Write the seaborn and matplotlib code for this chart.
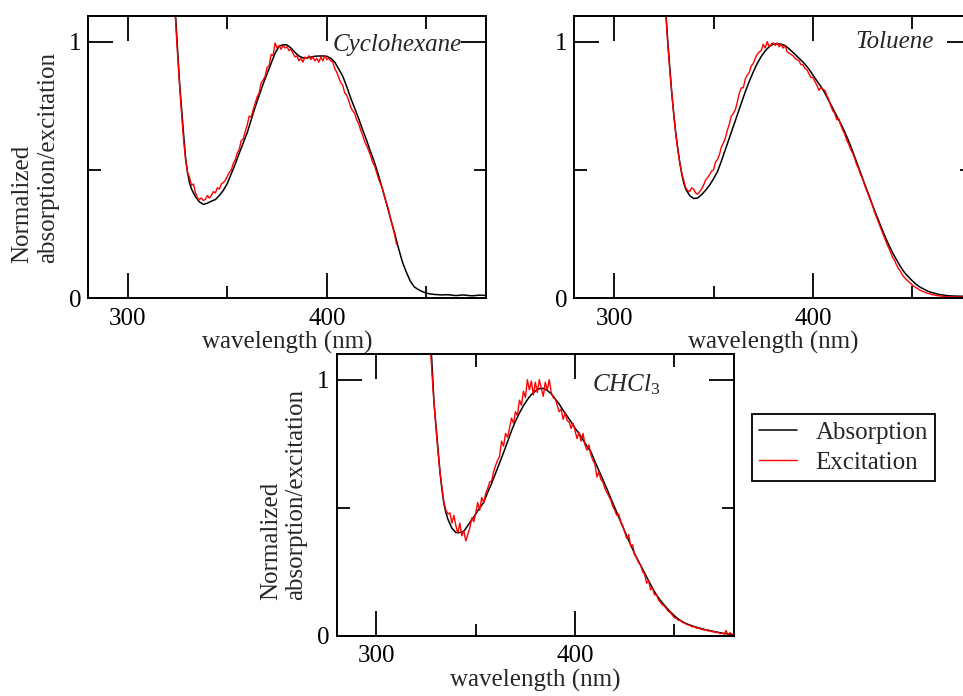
import numpy as np
import matplotlib
matplotlib.use("Agg")
import matplotlib.pyplot as plt
import seaborn as sns

# ---------------- data ----------------
# Cyclohexane
cyc_abs_wl = [322, 324, 326, 327, 328, 329, 330, 331, 332, 334, 336, 338, 340, 342, 344, 346, 348, 350,
              352, 354, 356, 358, 360, 362, 364, 366, 368, 370, 372, 374, 376, 378, 380, 382, 384, 386,
              388, 390, 392, 394, 396, 398, 400, 402, 404, 406, 408, 410, 412, 414, 416, 418, 420, 422,
              424, 426, 428, 430, 432, 434, 436, 438, 440, 442, 444, 446, 448, 450, 452, 454, 456, 458,
              460, 462, 464, 466, 468, 470, 472, 474, 476, 478, 480]
cyc_abs = [1.35, 1.10, 0.84, 0.74, 0.64, 0.55, 0.49, 0.45, 0.425, 0.395, 0.375, 0.365, 0.37, 0.378, 0.384,
           0.40, 0.42, 0.447, 0.485, 0.523, 0.565, 0.605, 0.645, 0.695, 0.745, 0.79, 0.835, 0.875, 0.915,
           0.955, 0.982, 0.988, 0.987, 0.975, 0.958, 0.944, 0.937, 0.936, 0.94, 0.943, 0.944, 0.944, 0.943,
           0.935, 0.92, 0.893, 0.865, 0.825, 0.78, 0.74, 0.70, 0.656, 0.615, 0.57, 0.528, 0.478, 0.424,
           0.368, 0.31, 0.255, 0.195, 0.14, 0.10, 0.065, 0.043, 0.033, 0.025, 0.019, 0.016, 0.014, 0.013,
           0.012, 0.013, 0.012, 0.010, 0.010, 0.012, 0.011, 0.009, 0.009, 0.011, 0.011, 0.010]
cyc_exc_start = 323
cyc_exc = [1.20, 1.08, 0.95, 0.83, 0.72, 0.62, 0.54, 0.49, 0.47, 0.44, 0.445, 0.41, 0.39, 0.385, 0.39,
           0.38, 0.385, 0.40, 0.39, 0.40, 0.415, 0.41, 0.43, 0.425, 0.445, 0.45, 0.46, 0.475, 0.49, 0.50,
           0.525, 0.54, 0.565, 0.58, 0.615, 0.62, 0.65, 0.675, 0.71, 0.705, 0.735, 0.76, 0.785, 0.80, 0.84,
           0.85, 0.865, 0.90, 0.905, 0.95, 0.945, 0.995, 0.975, 0.985, 0.97, 0.985, 0.975, 0.98, 0.965,
           0.97, 0.955, 0.94, 0.945, 0.925, 0.935, 0.92, 0.94, 0.935, 0.945, 0.93, 0.94, 0.925, 0.935,
           0.92, 0.94, 0.925, 0.945, 0.93, 0.935, 0.925, 0.92, 0.895, 0.88, 0.86, 0.84, 0.83, 0.80, 0.79,
           0.77, 0.745, 0.73, 0.72, 0.695, 0.68, 0.655, 0.635, 0.61, 0.595, 0.575, 0.555, 0.53, 0.515,
           0.49, 0.465, 0.445, 0.425, 0.395, 0.37, 0.345, 0.31, 0.28, 0.25, 0.21]

# Toluene
tol_abs_wl = [324, 326, 327, 328, 329, 330, 331, 332, 333, 334, 335, 336, 338, 340, 342, 344, 346, 348,
              350, 352, 354, 356, 358, 360, 362, 364, 366, 368, 370, 372, 374, 376, 378, 380, 382, 384,
              386, 388, 390, 392, 394, 396, 398, 400, 402, 404, 406, 408, 410, 412, 414, 416, 418, 420,
              422, 424, 426, 428, 430, 432, 434, 436, 438, 440, 442, 444, 446, 448, 450, 452, 454, 456,
              458, 460, 462, 464, 466, 468, 470, 474, 478, 480]
tol_abs = [1.35, 1.12, 1.0, 0.9, 0.80, 0.72, 0.645, 0.585, 0.53, 0.485, 0.45, 0.425, 0.40, 0.388, 0.39,
           0.403, 0.42, 0.44, 0.465, 0.493, 0.535, 0.58, 0.625, 0.67, 0.715, 0.76, 0.805, 0.845, 0.882,
           0.915, 0.942, 0.964, 0.98, 0.99, 0.992, 0.99, 0.985, 0.972, 0.958, 0.943, 0.928, 0.912, 0.893,
           0.87, 0.847, 0.825, 0.80, 0.77, 0.74, 0.71, 0.68, 0.648, 0.612, 0.572, 0.53, 0.488, 0.445,
           0.405, 0.362, 0.322, 0.283, 0.245, 0.21, 0.178, 0.15, 0.123, 0.10, 0.083, 0.067, 0.053, 0.042,
           0.034, 0.026, 0.021, 0.017, 0.013, 0.011, 0.009, 0.008, 0.007, 0.007, 0.007]
tol_exc_start = 325
tol_exc = [1.2, 1.11, 0.99, 0.89, 0.80, 0.715, 0.64, 0.58, 0.53, 0.49, 0.46, 0.43, 0.42, 0.415, 0.43,
           0.425, 0.41, 0.405, 0.415, 0.425, 0.44, 0.46, 0.47, 0.48, 0.495, 0.50, 0.53, 0.54, 0.56, 0.59,
           0.605, 0.625, 0.655, 0.68, 0.71, 0.72, 0.735, 0.765, 0.80, 0.82, 0.82, 0.855, 0.87, 0.88, 0.905,
           0.915, 0.935, 0.95, 0.96, 0.965, 0.99, 0.975, 1.0, 0.98, 0.99, 0.995, 0.985, 0.995, 0.98, 0.99,
           0.975, 0.985, 0.96, 0.955, 0.95, 0.945, 0.935, 0.93, 0.925, 0.91, 0.91, 0.895, 0.89, 0.875,
           0.86, 0.86, 0.845, 0.83, 0.81, 0.82, 0.815, 0.81, 0.79, 0.775, 0.75, 0.73, 0.72, 0.695, 0.70,
           0.675, 0.655, 0.64, 0.615, 0.60, 0.58, 0.565, 0.545, 0.52, 0.505, 0.48, 0.465, 0.44, 0.42, 0.40,
           0.38, 0.36, 0.335, 0.315, 0.295, 0.275, 0.255, 0.235, 0.215, 0.198, 0.18, 0.16, 0.148, 0.13,
           0.115, 0.105, 0.09, 0.08, 0.072, 0.065, 0.058, 0.05, 0.045, 0.04, 0.035, 0.03, 0.026, 0.024,
           0.02, 0.018, 0.016, 0.013, 0.012, 0.01, 0.009, 0.008, 0.007, 0.006, 0.006, 0.005, 0.004, 0.004,
           0.004, 0.004, 0.004, 0.004, 0.004, 0.004, 0.004, 0.004, 0.004, 0.004]

# CHCl3
chl_abs_wl = [326, 327.7, 329, 330, 331, 332, 333, 334, 335, 336, 338, 340, 342, 344, 346, 348, 350, 352,
              354, 356, 358, 360, 362, 364, 366, 368, 370, 372, 374, 376, 378, 380, 382, 384, 386, 388,
              390, 392, 394, 396, 398, 400, 402, 404, 406, 408, 410, 412, 414, 416, 418, 420, 422, 424,
              426, 428, 430, 432, 434, 436, 438, 440, 442, 444, 446, 448, 450, 452, 454, 456, 458, 460,
              462, 464, 466, 468, 470, 472, 474, 476, 478, 480]
chl_abs = [1.3, 1.1, 0.91, 0.82, 0.73, 0.64, 0.57, 0.515, 0.48, 0.455, 0.42, 0.403, 0.403, 0.408, 0.43,
           0.452, 0.475, 0.50, 0.52, 0.56, 0.595, 0.635, 0.675, 0.715, 0.757, 0.80, 0.838, 0.87, 0.898,
           0.922, 0.942, 0.955, 0.965, 0.966, 0.958, 0.945, 0.925, 0.905, 0.88, 0.858, 0.835, 0.81, 0.79,
           0.765, 0.74, 0.718, 0.68, 0.645, 0.61, 0.574, 0.536, 0.5, 0.463, 0.426, 0.39, 0.355, 0.32, 0.29,
           0.26, 0.23, 0.2, 0.172, 0.148, 0.128, 0.11, 0.093, 0.078, 0.065, 0.055, 0.047, 0.041, 0.036,
           0.031, 0.027, 0.023, 0.02, 0.016, 0.013, 0.01, 0.008, 0.006, 0.005]
chl_exc_start = 327
chl_exc = [1.15, 1.02, 0.91, 0.81, 0.72, 0.64, 0.58, 0.52, 0.49, 0.475, 0.48, 0.44, 0.47, 0.43, 0.40,
           0.44, 0.39, 0.41, 0.37, 0.395, 0.42, 0.46, 0.445, 0.48, 0.52, 0.49, 0.54, 0.52, 0.555, 0.575,
           0.60, 0.605, 0.64, 0.665, 0.685, 0.70, 0.76, 0.74, 0.79, 0.775, 0.81, 0.85, 0.83, 0.875, 0.86,
           0.92, 0.90, 0.955, 0.93, 1.0, 0.96, 0.995, 0.94, 0.99, 0.95, 1.0, 0.965, 0.935, 0.99, 0.96, 1.0,
           0.95, 0.93, 0.925, 0.90, 0.875, 0.885, 0.845, 0.87, 0.84, 0.835, 0.81, 0.83, 0.80, 0.77, 0.795,
           0.76, 0.79, 0.745, 0.725, 0.745, 0.705, 0.685, 0.67, 0.62, 0.64, 0.61, 0.60, 0.575, 0.56,
           0.545, 0.53, 0.505, 0.49, 0.47, 0.475, 0.445, 0.43, 0.405, 0.38, 0.395, 0.35, 0.355, 0.315,
           0.305, 0.285, 0.275, 0.25, 0.24, 0.205, 0.215, 0.18, 0.185, 0.16, 0.16, 0.14, 0.13, 0.12, 0.115,
           0.105, 0.095, 0.09, 0.08, 0.07, 0.068, 0.06, 0.06, 0.052, 0.05, 0.045, 0.042, 0.04, 0.034, 0.036,
           0.03, 0.03, 0.027, 0.025, 0.022, 0.024, 0.018, 0.02, 0.015, 0.016, 0.012, 0.014, 0.008, 0.01,
           0.006, 0.02, 0.004, 0.012, 0.003, 0.008]

solvents = ["Cyclohexane", "Toluene", r"$CHCl_{\mathit{3}}$"]
x_major = [300, 400]
x_minor = [350, 450]
y_major = [0, 1]
y_minor = [0.5]
legend_labels = ["Absorption", "Excitation"]

# ---------------- style ----------------
sns.set_style("white")
plt.rcParams["font.family"] = ["Liberation Serif", "DejaVu Serif"]
plt.rcParams["mathtext.fontset"] = "custom"
plt.rcParams["mathtext.it"] = "Liberation Serif:italic"
plt.rcParams["mathtext.rm"] = "Liberation Serif"
FS = 18

fig = plt.figure(figsize=(9.63, 6.96), dpi=100)
ax1 = fig.add_axes([0.0914, 0.5718, 0.4133, 0.4052])
ax2 = fig.add_axes([0.5964, 0.5718, 0.4129, 0.4052])
ax3 = fig.add_axes([0.3496, 0.0866, 0.4126, 0.4047])

panels = [
    (ax1, cyc_abs_wl, cyc_abs, cyc_exc_start, cyc_exc),
    (ax2, tol_abs_wl, tol_abs, tol_exc_start, tol_exc),
    (ax3, chl_abs_wl, chl_abs, chl_exc_start, chl_exc),
]

for ax, awl, a, es, e in panels:
    ewl = es + np.arange(len(e))
    sns.lineplot(x=awl, y=a, ax=ax, color="black", lw=1.1, estimator=None, sort=False,
                 label=legend_labels[0], legend=False)
    sns.lineplot(x=ewl, y=e, ax=ax, color="red", lw=1.0, estimator=None, sort=False,
                 label=legend_labels[1], legend=False)
    ax.set_xlim(280, 480)
    ax.set_ylim(0, 1.1)
    ax.set_xticks(x_major)
    ax.set_xticks(x_minor, minor=True)
    ax.set_yticks(y_major)
    ax.set_yticks(y_minor, minor=True)
    ax.set_yticklabels(["0", "1"])
    ax.tick_params(which="both", direction="in", top=True, right=True, bottom=True, left=True,
                   width=1.3, colors="black", labelsize=FS)
    ax.tick_params(which="major", length=18)
    ax.tick_params(which="minor", length=9)
    ax.tick_params(axis="x", which="major", pad=7)
    ax.tick_params(axis="y", which="major", pad=5)
    for sp in ax.spines.values():
        sp.set_linewidth(1.4)
        sp.set_color("black")
    ax.set_xlabel("wavelength (nm)", fontsize=FS, labelpad=1)
    ax.set_ylabel("")

for ax in (ax1, ax3):
    ax.set_ylabel("Normalized\nabsorption/excitation", fontsize=FS, multialignment="left",
                  labelpad=7)

ax1.text(467.9, 0.962, solvents[0], fontsize=FS, style="italic", ha="right", va="baseline")
ax2.text(461, 0.975, solvents[1], fontsize=FS, style="italic", ha="right", va="baseline")
ax3.text(408.6, 0.954, solvents[2], fontsize=FS, ha="left", va="baseline")

handles, labels = ax3.get_legend_handles_labels()
leg = fig.legend(handles, labels, loc="upper left", bbox_to_anchor=(0.7806, 0.4052),
                 bbox_transform=fig.transFigure, borderaxespad=0, fontsize=FS,
                 frameon=True, fancybox=False, shadow=False, framealpha=1,
                 edgecolor="black", handlelength=1.5, handletextpad=0.75,
                 labelspacing=0.3, borderpad=0.3)
leg.get_frame().set_linewidth(1.3)

fig.savefig("out.png", dpi=100)
